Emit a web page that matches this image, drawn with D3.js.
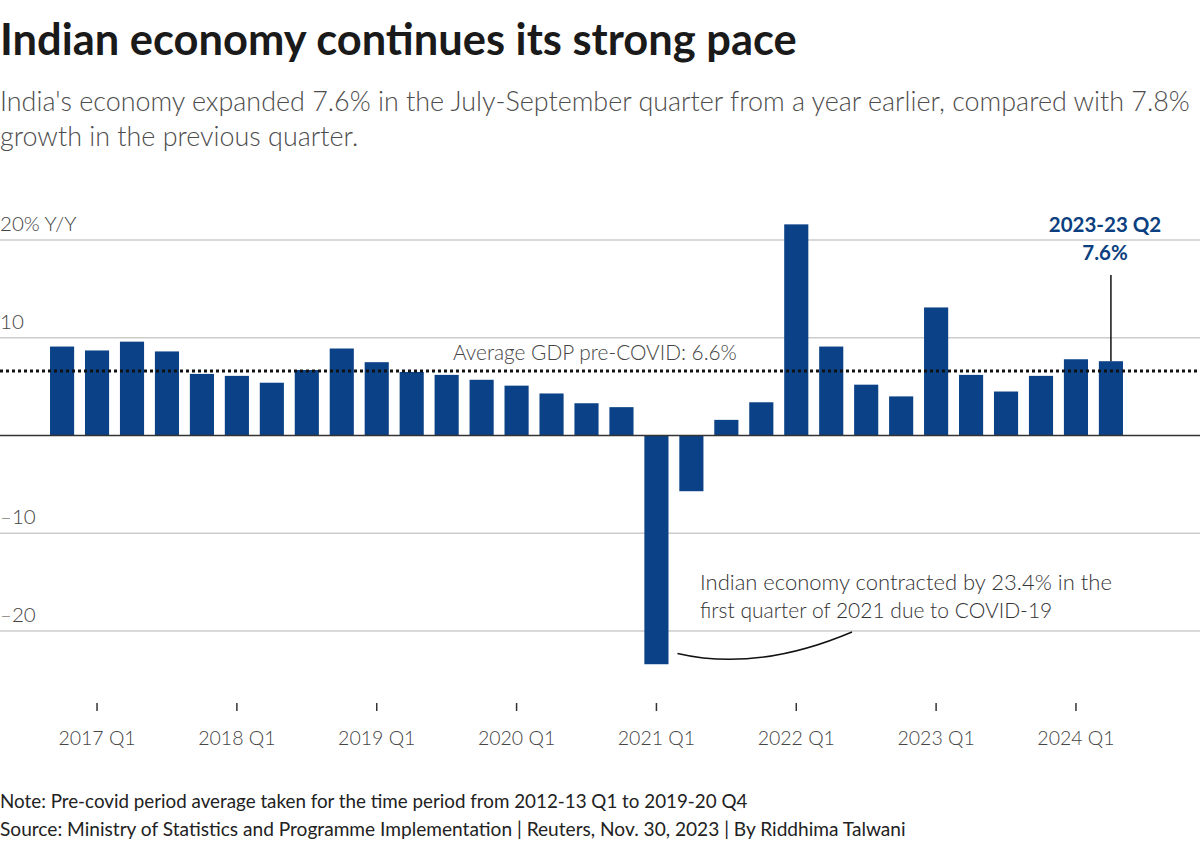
<!DOCTYPE html>
<html>
<head>
<meta charset="utf-8">
<script src="https://cdn.jsdelivr.net/npm/d3@7"></script>
<style>
  html, body { margin: 0; padding: 0; background: #fff; }
  svg { display: block; font-family: Lato, "Noto Sans", sans-serif; }
</style>
</head>
<body>
<svg id="chart" width="1200" height="845"></svg>
<script>
// ---- data ----
const quarters = [
  "2016 Q4",
  "2017 Q1","2017 Q2","2017 Q3","2017 Q4",
  "2018 Q1","2018 Q2","2018 Q3","2018 Q4",
  "2019 Q1","2019 Q2","2019 Q3","2019 Q4",
  "2020 Q1","2020 Q2","2020 Q3","2020 Q4",
  "2021 Q1","2021 Q2","2021 Q3","2021 Q4",
  "2022 Q1","2022 Q2","2022 Q3","2022 Q4",
  "2023 Q1","2023 Q2","2023 Q3","2023 Q4",
  "2024 Q1","2024 Q2"
];
const growth = [
  9.1,
  8.7, 9.6, 8.6, 6.3,
  6.1, 5.4, 6.7, 8.9,
  7.5, 6.5, 6.2, 5.7,
  5.1, 4.3, 3.3, 2.9,
  -23.4, -5.7, 1.6, 3.4,
  21.6, 9.1, 5.2, 4.0,
  13.1, 6.2, 4.5, 6.1,
  7.8, 7.6
];
const tickLabels = ["2017 Q1","2018 Q1","2019 Q1","2020 Q1","2021 Q1","2022 Q1","2023 Q1","2024 Q1"];
const yTicks = [-20, -10, 0, 10, 20];
const yTickLabels = ["\u201320", "\u201310", "", "10", "20% Y/Y"];
const preCovidAvg = 6.6;

const title = "Indian economy continues its strong pace";
const subtitle = ["India's economy expanded 7.6% in the July-September quarter from a year earlier, compared with 7.8%",
                  "growth in the previous quarter."];
const footer = ["Note: Pre-covid period average taken for the time period from 2012-13 Q1 to 2019-20 Q4",
                "Source: Ministry of Statistics and Programme Implementation | Reuters, Nov. 30, 2023 | By Riddhima Talwani"];
const covidNote = ["Indian economy contracted by 23.4% in the", "first quarter of 2021 due to COVID-19"];
const lastLabel = ["2023-23 Q2", "7.6%"];

// ---- layout ----
const svg = d3.select("#chart");
const W = 1200;
const barColor = "#0b4287";

function fitText(sel, target) {
  const node = sel.node();
  const fs = parseFloat(sel.attr("font-size"));
  const w = node.getComputedTextLength();
  sel.attr("font-size", (fs * target / w).toFixed(2));
}

// title
svg.append("text").attr("x", 0).attr("y", 55)
  .attr("font-size", 36).attr("font-weight", 700).attr("fill", "#1a1a1a")
  .text(title).call(fitText, 797);

// subtitle
const sub1 = svg.append("text").attr("x", 0).attr("y", 111)
  .attr("font-size", 24).attr("font-weight", 300).attr("fill", "#4d4d4d")
  .text(subtitle[0]);
fitText(sub1, 1190);
const subFs = sub1.attr("font-size");
svg.append("text").attr("x", 0).attr("y", 146)
  .attr("font-size", subFs).attr("font-weight", 300).attr("fill", "#4d4d4d")
  .text(subtitle[1]);

// scales
const y = d3.scaleLinear().domain([-20, 20]).range([631, 240]);
const x = d3.scaleBand().domain(quarters).range([44.6, 1128.4]).paddingInner(0.31).paddingOuter(0.155);

// gridlines
svg.append("g").selectAll("line").data(yTicks.filter(d => d !== 0)).join("line")
  .attr("x1", 0).attr("x2", W)
  .attr("y1", d => y(d)).attr("y2", d => y(d))
  .attr("stroke", "#cccccc").attr("stroke-width", 1.5);

// y labels
svg.append("g").selectAll("text").data(yTicks).join("text")
  .attr("x", 0).attr("y", d => y(d) - 9)
  .attr("font-size", 20.5).attr("font-weight", 300).attr("fill", "#444")
  .text((d, i) => yTickLabels[i]);

// bars
svg.append("g").selectAll("rect").data(growth).join("rect")
  .attr("x", (d, i) => x(quarters[i]))
  .attr("width", x.bandwidth())
  .attr("y", d => y(Math.max(0, d)))
  .attr("height", d => Math.abs(y(d) - y(0)))
  .attr("fill", barColor);

// zero line
svg.append("line").attr("x1", 0).attr("x2", W)
  .attr("y1", y(0)).attr("y2", y(0))
  .attr("stroke", "#333").attr("stroke-width", 1.5);

// average line
svg.append("line").attr("x1", 0).attr("x2", W)
  .attr("y1", y(preCovidAvg)).attr("y2", y(preCovidAvg))
  .attr("stroke", "#111").attr("stroke-width", 3).attr("stroke-dasharray", "3,3");
svg.append("text").attr("x", 453).attr("y", y(preCovidAvg) - 11)
  .attr("font-size", 20).attr("font-weight", 300).attr("fill", "#444")
  .text("Average GDP pre-COVID: " + preCovidAvg + "%").call(fitText, 284);

// x axis
const xAxis = d3.axisBottom(x).tickValues(tickLabels).tickSize(8).tickPadding(20).tickSizeOuter(0);
const gx = svg.append("g").attr("transform", "translate(0,703)").call(xAxis);
gx.select(".domain").remove();
gx.selectAll(".tick line").attr("stroke", "#333").attr("stroke-width", 1.5);
gx.selectAll(".tick text").attr("font-size", 19.5).attr("font-weight", 300).attr("fill", "#444")
  .attr("font-family", "Lato, 'Noto Sans', sans-serif");

// covid annotation
const tx = 700;
svg.append("text").attr("x", tx).attr("y", 590)
  .attr("font-size", 21).attr("font-weight", 300).attr("fill", "#333")
  .text(covidNote[0]).call(fitText, 412);
svg.append("text").attr("x", tx).attr("y", 618)
  .attr("font-size", 21).attr("font-weight", 300).attr("fill", "#333")
  .text(covidNote[1]);
const iCovid = quarters.indexOf("2021 Q1");
const cx0 = x(quarters[iCovid]) + x.bandwidth() + 9;
svg.append("path")
  .attr("d", `M${cx0},${y(-22.3)} Q${cx0 + 80},${y(-24.2)} ${852},${y(-20.1)}`)
  .attr("fill", "none").attr("stroke", "#111").attr("stroke-width", 1.5);

// last bar annotation
const iLast = growth.length - 1;
const lx = x(quarters[iLast]) + x.bandwidth() / 2;
svg.append("line").attr("x1", lx).attr("x2", lx)
  .attr("y1", 275).attr("y2", y(growth[iLast]))
  .attr("stroke", "#111").attr("stroke-width", 1.5);
const lbl = svg.append("g").attr("font-size", 20.5).attr("font-weight", 700).attr("fill", "#0b3f80")
  .attr("text-anchor", "middle");
lbl.append("text").attr("x", 1105).attr("y", 232).text(lastLabel[0])
  .attr("stroke", "#fff").attr("stroke-width", 5).attr("paint-order", "stroke");
lbl.append("text").attr("x", 1105).attr("y", 260).text(lastLabel[1])
  .attr("stroke", "#fff").attr("stroke-width", 5).attr("paint-order", "stroke");

// footer
svg.append("text").attr("x", 0).attr("y", 808)
  .attr("font-size", 18).attr("fill", "#222").text(footer[0]).call(fitText, 748);
svg.append("text").attr("x", 0).attr("y", 836)
  .attr("font-size", 18).attr("fill", "#222").text(footer[1]).call(fitText, 906);
</script>
</body>
</html>
